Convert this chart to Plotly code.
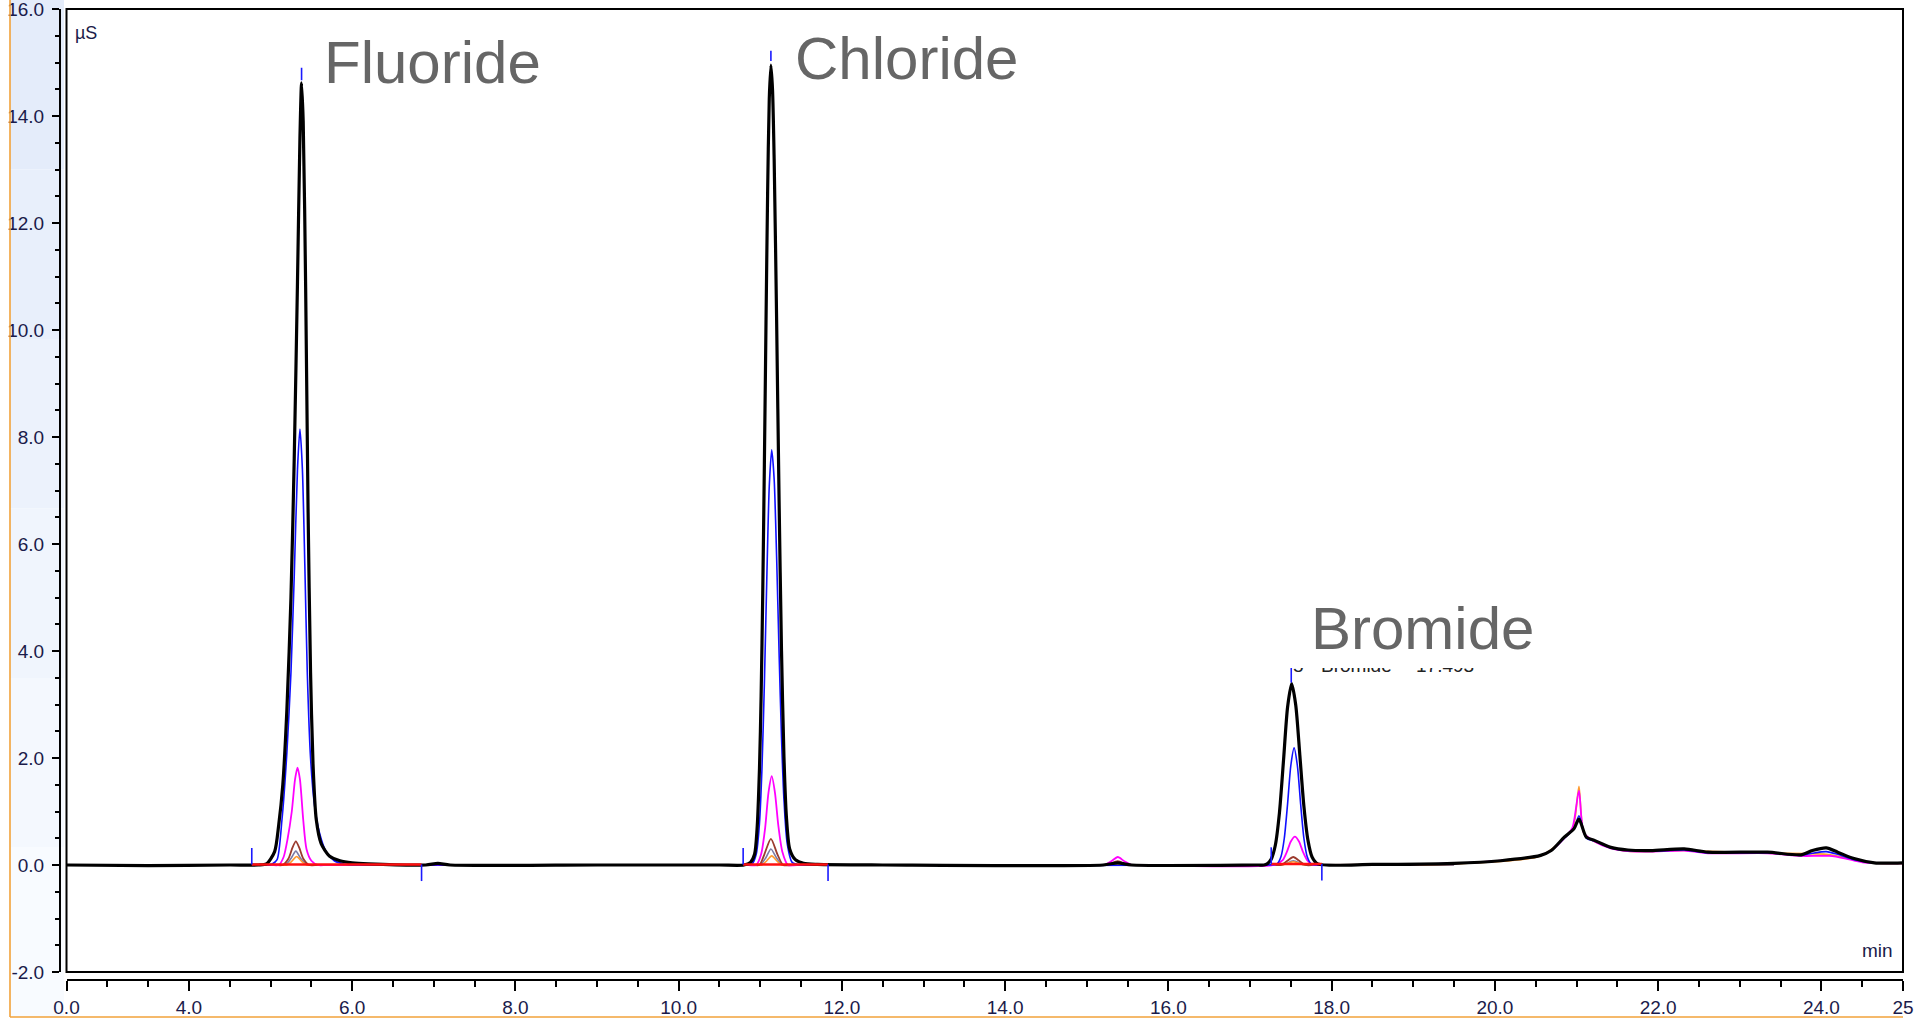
import plotly.graph_objects as go

# ---------------- data (retention time in min, response in µS) ----------------
black_t = [2.50, 3.50, 4.50, 4.85, 4.95, 5.05, 5.10, 5.15, 5.20, 5.25, 5.29, 5.33, 5.36, 5.38,
           5.40, 5.43, 5.46, 5.49, 5.52, 5.56, 5.62, 5.72, 5.85, 6.00, 6.20, 6.90, 7.05, 7.20,
           9.00, 10.50, 10.80, 10.88, 10.93, 10.96, 10.99, 11.01, 11.03, 11.05, 11.07, 11.09,
           11.11, 11.13, 11.15, 11.17, 11.20, 11.23, 11.26, 11.29, 11.32, 11.36, 11.43, 11.53,
           11.70, 12.50, 15.20, 15.38, 15.55, 17.10, 17.17, 17.21, 17.26, 17.31, 17.36, 17.41,
           17.46, 17.51, 17.56, 17.61, 17.66, 17.71, 17.76, 17.83, 18.50, 19.50, 20.07, 20.56,
           20.69, 20.85, 20.97, 21.03, 21.12, 21.22, 21.42, 21.63, 21.91, 22.32, 22.61, 23.34,
           23.75, 23.89, 24.06, 24.20, 24.40, 24.65, 25.00]
black_y = [0.00, -0.01, 0.00, 0.00, 0.02, 0.25, 0.75, 1.50, 2.90, 5.00, 7.60, 10.90, 13.60, 14.62,
           13.90, 10.80, 6.60, 3.60, 1.90, 0.85, 0.40, 0.17, 0.08, 0.04, 0.02, 0.00, 0.03, 0.00,
           0.00, 0.00, 0.00, 0.05, 0.20, 0.66, 1.80, 3.15, 5.07, 7.48, 10.13, 12.57,
           14.32, 14.95, 14.49, 13.19, 10.20, 6.85, 4.00, 2.02, 0.90, 0.30, 0.10, 0.03,
           0.01, 0.00, 0.00, 0.04, 0.00, 0.00, 0.00, 0.02, 0.11, 0.37, 0.97, 1.95,
           2.95, 3.39, 2.99, 2.06, 1.10, 0.46, 0.15, 0.02, 0.01, 0.03, 0.08, 0.18,
           0.27, 0.52, 0.68, 0.86, 0.52, 0.46, 0.33, 0.28, 0.27, 0.30, 0.24, 0.24,
           0.19, 0.27, 0.32, 0.24, 0.12, 0.04, 0.04]

blue_t = [2.50, 4.50, 4.95, 5.02, 5.08, 5.14, 5.20, 5.25, 5.29, 5.33, 5.36, 5.39, 5.42, 5.45,
          5.49, 5.54, 5.60, 5.68, 5.78, 5.90, 6.05, 6.20, 10.50, 10.85, 10.90, 10.95, 10.99,
          11.02, 11.05, 11.08, 11.11, 11.14, 11.17, 11.20, 11.23, 11.26, 11.29, 11.33, 11.39,
          11.50, 11.62, 17.20, 17.33, 17.38, 17.42, 17.46, 17.50, 17.54, 17.58, 17.62, 17.66,
          17.70, 17.75, 17.85, 19.50, 20.07, 20.56, 20.69, 20.85, 20.97, 21.03, 21.12, 21.22,
          21.42, 21.63, 21.91, 22.32, 22.61, 23.34, 23.75, 23.89, 24.06, 24.20, 24.40, 24.65,
          25.00]
blue_y = [0.00, 0.00, 0.00, 0.02, 0.10, 0.85, 2.10, 3.60, 5.40, 7.40, 8.15, 7.40, 5.60, 3.60,
          2.00, 1.10, 0.60, 0.25, 0.08, 0.02, 0.00, 0.00, 0.00, 0.00, 0.02, 0.20, 0.78,
          1.78, 3.39, 5.37, 7.08, 7.76, 7.21, 5.77, 3.98, 2.38, 1.22, 0.40, 0.05,
          0.00, 0.00, 0.00, 0.02, 0.16, 0.50, 1.14, 1.86, 2.19, 1.86, 1.14, 0.50,
          0.16, 0.02, 0.00, 0.03, 0.08, 0.18, 0.27, 0.50, 0.68, 0.92, 0.50, 0.45,
          0.32, 0.27, 0.26, 0.28, 0.23, 0.23, 0.18, 0.22, 0.25, 0.20, 0.10, 0.04,
          0.04]

magenta_t = [2.50, 5.00, 5.10, 5.16, 5.21, 5.26, 5.30, 5.33, 5.36, 5.40, 5.44, 5.50, 5.58, 5.70,
             10.85, 10.95, 11.01, 11.06, 11.10, 11.14, 11.18, 11.22, 11.27, 11.34, 11.45, 15.12,
             15.22, 15.30, 15.38, 15.46, 15.55, 15.65, 17.30, 17.40, 17.45, 17.50, 17.55, 17.60,
             17.65, 17.70, 17.76, 17.85, 19.50, 20.07, 20.56, 20.69, 20.85, 20.95, 21.03, 21.09,
             21.22, 21.42, 21.63, 21.91, 22.32, 22.61, 23.34, 23.75, 23.95, 24.10, 24.30, 24.50,
             25.00]
magenta_y = [0.00, 0.00, 0.00, 0.15, 0.50, 1.00, 1.60, 1.82, 1.60, 0.85, 0.30, 0.08, 0.00, 0.00,
             0.00, 0.00, 0.20, 0.70, 1.35, 1.66, 1.35, 0.75, 0.25, 0.00, 0.00, 0.00,
             0.00, 0.07, 0.15, 0.07, 0.00, 0.00, 0.00, 0.09, 0.24, 0.44, 0.53, 0.44,
             0.24, 0.09, 0.01, 0.00, 0.03, 0.08, 0.18, 0.27, 0.50, 0.70, 1.39, 0.60,
             0.44, 0.31, 0.26, 0.25, 0.27, 0.22, 0.22, 0.17, 0.17, 0.17, 0.12, 0.05,
             0.03]

orange_t = [2.50, 5.10, 5.20, 5.26, 5.32, 5.38, 5.45, 5.55, 10.95, 11.02, 11.08, 11.14, 11.20,
            11.26, 11.35, 17.30, 17.38, 17.46, 17.53, 17.60, 17.68, 17.80, 19.50, 20.56, 20.85,
            20.96, 21.03, 21.09, 21.22, 21.63, 22.32, 23.34, 24.06, 24.65, 25.00]
orange_y = [0.00, 0.00, 0.00, 0.07, 0.16, 0.07, 0.00, 0.00, 0.00, 0.00, 0.08, 0.17, 0.08,
            0.00, 0.00, 0.00, 0.00, 0.03, 0.06, 0.03, 0.00, 0.00, 0.02, 0.17, 0.50,
            0.70, 1.47, 0.60, 0.44, 0.26, 0.27, 0.22, 0.20, 0.04, 0.03]

brown_t = [2.50, 5.05, 5.15, 5.22, 5.27, 5.31, 5.35, 5.40, 5.47, 5.60, 10.90, 10.99, 11.05,
           11.13, 11.21, 11.28, 11.40, 15.15, 15.25, 15.38, 15.50, 15.60, 17.30, 17.38, 17.45,
           17.53, 17.61, 17.68, 17.80, 19.50]
brown_y = [0.00, 0.00, 0.00, 0.12, 0.33, 0.44, 0.33, 0.12, 0.00, 0.00, 0.00, 0.00, 0.20,
           0.49, 0.20, 0.00, 0.00, 0.00, 0.00, 0.07, 0.00, 0.00, 0.00, 0.00, 0.07,
           0.15, 0.07, 0.00, 0.00, 0.01]

slate_t = [2.50, 5.08, 5.18, 5.25, 5.31, 5.37, 5.45, 5.55, 10.92, 11.00, 11.07, 11.13, 11.20,
           11.27, 11.37, 17.30, 17.40, 17.53, 17.66, 17.78, 19.50]
slate_y = [0.00, 0.00, 0.00, 0.12, 0.26, 0.12, 0.00, 0.00, 0.00, 0.00, 0.14, 0.30, 0.13,
           0.00, 0.00, 0.00, 0.00, 0.08, 0.00, 0.00, 0.00]

# peak identification / integration marks
peak_names = ["Fluoride", "Chloride", "Bromide"]
apex_t = [5.38, 11.13, 17.505]
apex_mark_lo = [14.67, 15.03, 3.41]
apex_mark_hi = [14.90, 15.22, 3.80]
start_t = [4.77, 10.79, 17.26]
end_t = [6.85, 11.83, 17.88]
base_y = [0.01, 0.01, 0.02]
peak_label_parts = ["5", "Bromide", "17.493"]

# axis ticks
x_tick_vals = [2.5, 4, 6, 8, 10, 12, 14, 16, 18, 20, 22, 24, 25]
x_tick_text = ["0.0", "4.0", "6.0", "8.0", "10.0", "12.0", "14.0", "16.0", "18.0", "20.0",
               "22.0", "24.0", "25"]
y_tick_vals = [-2, 0, 2, 4, 6, 8, 10, 12, 14, 16]
y_tick_text = ["-2.0", "0.0", "2.0", "4.0", "6.0", "8.0", "10.0", "12.0", "14.0", "16.0"]

# ---------------- layout geometry ----------------
W, H = 1916, 1019
ML, MR, MT, MB = 60, 13, 9, 39
PW, PH = W - ML - MR, H - MT - MB
X0, X1, Y0, Y1 = 2.5, 25.0, -2.0, 16.0


def px_x(px):
    return (px - ML) / PW


def px_y(py):
    return (H - MB - py) / PH


XD0 = px_x(66.5)
YD0 = px_y(972)


def px_t(px):  # pixel column -> time-axis position
    return X0 + (px - 66.5) / (W - MR - 66.5) * (X1 - X0)


def px_v(py):  # pixel row -> response-axis position
    return Y1 - (py - MT) / (972 - MT) * (Y1 - Y0)


SANS = "Liberation Sans, Arial, sans-serif"
TXT = "#1b1b4a"

fig = go.Figure()


def add_line(t, y, color, width):
    fig.add_trace(go.Scatter(x=t, y=y, mode="lines",
                             line=dict(color=color, width=width, shape="spline", smoothing=0.7),
                             hoverinfo="skip", showlegend=False))


add_line(slate_t, slate_y, "#7b7ba6", 1.6)
add_line(orange_t, orange_y, "#ff9a2e", 1.6)
add_line(brown_t, brown_y, "#9b3b2e", 1.8)
add_line(magenta_t, magenta_y, "#ff00ff", 1.8)
add_line(blue_t, blue_y, "#1010ff", 1.6)
add_line(black_t, black_y, "#000000", 3.2)

# integration baselines (red)
rx, ry = [], []
for s, e, b in zip(start_t, end_t, base_y):
    rx += [s, e, None]
    ry += [b, b, None]
fig.add_trace(go.Scatter(x=rx, y=ry, mode="lines", line=dict(color="#ff1010", width=2.6),
                         hoverinfo="skip", showlegend=False))

# blue peak marks
mx, my = [], []
for t, lo, hi in zip(apex_t, apex_mark_lo, apex_mark_hi):
    mx += [t, t, None]
    my += [lo, hi, None]
for s, b in zip(start_t, base_y):
    mx += [s, s, None]
    my += [b, b + 0.31, None]
for e, b in zip(end_t, base_y):
    mx += [e, e, None]
    my += [b, b - 0.31, None]
fig.add_trace(go.Scatter(x=mx, y=my, mode="lines", line=dict(color="#1a1aff", width=1.6),
                         hoverinfo="skip", showlegend=False))

# peak label of the bromide peak (partly hidden behind the big caption)
fig.add_trace(go.Scatter(x=[px_t(1293), px_t(1321), px_t(1416)], y=[px_v(667)] * 3,
                         mode="text", text=peak_label_parts, textposition="middle right",
                         textfont=dict(family=SANS, size=19, color="#222222"),
                         hoverinfo="skip", showlegend=False, cliponaxis=False))

# ---------------- decorations ----------------
shapes = []
bands = ["#e4ecfa", "#e8effb", "#ecf2fc", "#f0f5fd", "#f4f8fe", "#f8fbff"]
top_px, bot_px = 0, 1017
step = (bot_px - top_px) / len(bands)
for i, c in enumerate(bands):
    shapes.append(dict(type="rect", xref="paper", yref="paper", layer="below",
                       x0=px_x(10), x1=px_x(64), y0=px_y(top_px + (i + 1) * step),
                       y1=px_y(top_px + i * step), fillcolor=c, line=dict(width=0)))
shapes.append(dict(type="line", xref="paper", yref="paper", x0=px_x(10), x1=px_x(10),
                   y0=px_y(0), y1=px_y(1017), line=dict(color="#f2a23a", width=1.6)))
shapes.append(dict(type="line", xref="paper", yref="paper", x0=px_x(10), x1=px_x(1903),
                   y0=px_y(1017), y1=px_y(1017), line=dict(color="#f2a23a", width=1.6)))
# white caption box hiding the top of the peak label
shapes.append(dict(type="rect", xref="paper", yref="paper", layer="above",
                   x0=px_x(1284), x1=px_x(1574), y0=px_y(668), y1=px_y(596),
                   fillcolor="#ffffff", line=dict(width=0)))
# plot frame
shapes.append(dict(type="rect", xref="paper", yref="paper", layer="above",
                   x0=XD0, x1=1, y0=YD0, y1=1, line=dict(color="black", width=2)))

annotations = [
    dict(text="µS", x=px_x(73), y=px_y(33), xanchor="left", yanchor="middle",
         font=dict(family=SANS, size=18, color=TXT)),
    dict(text="min", x=px_x(1895), y=px_y(950), xanchor="right", yanchor="middle",
         font=dict(family=SANS, size=19, color=TXT)),
    dict(text=peak_names[0], x=px_x(322), y=px_y(63), xanchor="left", yanchor="middle",
         font=dict(family=SANS, size=60, color="#666666")),
    dict(text=peak_names[1], x=px_x(793), y=px_y(58), xanchor="left", yanchor="middle",
         font=dict(family=SANS, size=60, color="#666666")),
    dict(text=peak_names[2], x=px_x(1309), y=px_y(628), xanchor="left", yanchor="middle",
         font=dict(family=SANS, size=60, color="#666666")),
]
for a in annotations:
    a.update(xref="paper", yref="paper", showarrow=False)

fig.update_layout(
    template="none",
    width=W, height=H,
    margin=dict(l=ML, r=MR, t=MT, b=MB, pad=0, autoexpand=False),
    paper_bgcolor="#ffffff", plot_bgcolor="#ffffff", showlegend=False,
    shapes=shapes, annotations=annotations,
    xaxis=dict(range=[X0, X1], domain=[XD0, 1], anchor="free", position=0, automargin=False,
               showline=True, linecolor="black", linewidth=2, mirror=False,
               ticks="outside", ticklen=10, tickwidth=2, tickcolor="black",
               tickmode="array", tickvals=x_tick_vals, ticktext=x_tick_text,
               tickfont=dict(family=SANS, size=19, color=TXT), ticklabelstandoff=0,
               ticklabeloverflow="allow",
               minor=dict(ticks="outside", dtick=0.5, tick0=0, ticklen=6, tickwidth=1.6,
                          tickcolor="black", showgrid=False),
               showgrid=False, zeroline=False, fixedrange=True),
    yaxis=dict(range=[Y0, Y1], domain=[YD0, 1], anchor="free", position=0, automargin=False,
               showline=True, linecolor="black", linewidth=2,
               ticks="outside", ticklen=7, tickwidth=2, tickcolor="black",
               tickmode="array", tickvals=y_tick_vals, ticktext=y_tick_text,
               tickfont=dict(family=SANS, size=19, color=TXT), ticklabelstandoff=4,
               ticklabeloverflow="allow",
               minor=dict(ticks="outside", dtick=0.5, tick0=0, ticklen=4, tickwidth=1.6,
                          tickcolor="black", showgrid=False),
               showgrid=False, zeroline=False, fixedrange=True),
)

fig.write_html("out.html")
